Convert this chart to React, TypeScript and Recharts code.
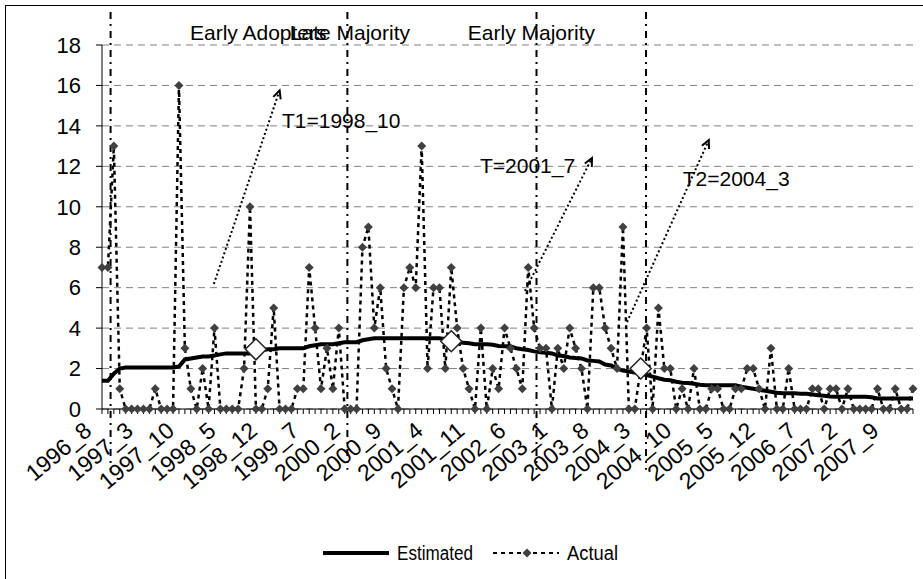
import {
  LineChart,
  Line,
  XAxis,
  YAxis,
  CartesianGrid,
  ReferenceLine,
  ReferenceDot,
  Legend,
} from "recharts";

// Monthly counts, 1996_8 .. 2008_1 (138 months)
const actual = [
  7, 7, 13, 1, 0, 0, 0, 0, 0, 1,
  0, 0, 0, 16, 3, 1, 0, 2, 0, 4,
  0, 0, 0, 0, 2, 10, 0, 0, 1, 5,
  0, 0, 0, 1, 1, 7, 4, 1, 3, 1,
  4, 0, 0, 0, 8, 9, 4, 6, 2, 1,
  0, 6, 7, 6, 13, 2, 6, 6, 2, 7,
  4, 2, 1, 0, 4, 0, 2, 1, 4, 3,
  2, 1, 7, 4, 3, 3, 0, 3, 2, 4,
  3, 2, 0, 6, 6, 4, 3, 2, 9, 0,
  0, 2, 4, 0, 5, 2, 2, 0, 1, 0,
  2, 0, 0, 1, 1, 0, 0, 1, 1, 2,
  2, 1, 0, 3, 0, 0, 2, 0, 0, 0,
  1, 1, 0, 1, 1, 0, 1, 0, 0, 0,
  0, 1, 0, 0, 1, 0, 0, 1,
];

const estimated = [
  1.4, 1.4, 1.75, 2.0, 2.05, 2.05, 2.05, 2.05, 2.05, 2.05,
  2.05, 2.05, 2.05, 2.1, 2.45, 2.5, 2.55, 2.6, 2.6, 2.65,
  2.7, 2.75, 2.75, 2.75, 2.75, 2.75, 2.85, 2.9, 2.95, 2.95,
  3.0, 3.0, 3.0, 3.0, 3.0, 3.1, 3.15, 3.2, 3.2, 3.2,
  3.25, 3.3, 3.3, 3.3, 3.4, 3.45, 3.5, 3.5, 3.5, 3.5,
  3.5, 3.5, 3.5, 3.5, 3.5, 3.5, 3.5, 3.5, 3.45, 3.38,
  3.3, 3.28, 3.25, 3.2, 3.2, 3.2, 3.18, 3.12, 3.1, 3.1,
  3.0, 2.95, 2.92, 2.85, 2.8, 2.78, 2.75, 2.65, 2.62, 2.55,
  2.52, 2.5, 2.4, 2.38, 2.35, 2.2, 2.15, 2.0, 1.9, 1.85,
  1.8, 1.75, 1.68, 1.6, 1.52, 1.45, 1.42, 1.35, 1.3, 1.28,
  1.25, 1.2, 1.18, 1.18, 1.18, 1.18, 1.18, 1.18, 1.1, 1.05,
  1.0, 0.95, 0.9, 0.85, 0.8, 0.78, 0.78, 0.78, 0.76, 0.75,
  0.72, 0.68, 0.65, 0.62, 0.6, 0.6, 0.6, 0.6, 0.6, 0.6,
  0.58, 0.52, 0.52, 0.52, 0.52, 0.52, 0.52, 0.52,
];

// turning points T1, T, T2 (open diamonds)
const turnIdx = [26, 59, 91];
const turnValue = [2.95, 3.35, 2.0];

const tickLabels = [
  "1996_8", "1997_3", "1997_10", "1998_5", "1998_12", "1999_7", "2000_2",
  "2000_9", "2001_4", "2001_11", "2002_6", "2003_1", "2003_8", "2004_3",
  "2004_10", "2005_5", "2005_12", "2006_7", "2007_2", "2007_9",
];
const labelStep = 7;
const yTicks = [0, 2, 4, 6, 8, 10, 12, 14, 16, 18];

// annotation layer (in chart units)
const phaseLines = [1.45, 41.45, 73.4, 91.9];
const phaseTexts = [
  { text: "Early Adopters", x: 14.86, y: 18.25, anchor: "start" },
  { text: "Late Majority", x: 52.03, y: 18.25, anchor: "end" },
  { text: "Early Majority", x: 61.8, y: 18.25, anchor: "start" },
  { text: "T1=1998_10", x: 30.4, y: 13.88, anchor: "start" },
  { text: "T=2001_7", x: 63.85, y: 11.66, anchor: "start" },
  { text: "T2=2004_3", x: 98.1, y: 11.03, anchor: "start" },
];
const arrows = [
  { from: { x: 18.9, y: 6.18 }, to: { x: 30.0, y: 15.75 } },
  { from: { x: 71.45, y: 5.84 }, to: { x: 82.77, y: 12.41 } },
  { from: { x: 88.7, y: 4.3 }, to: { x: 102.5, y: 13.3 } },
];

const FONT = '"Liberation Sans", Arial, sans-serif';

const data = actual.map((a, i) => {
  const t = turnIdx.indexOf(i);
  return {
    idx: i,
    actual: a,
    estimated: estimated[i],
    turn: t >= 0 ? turnValue[t] : null,
  };
});
const allTicks = data.map((d) => d.idx);

const Diamond = ({ cx, cy }: any) => {
  if (cx == null || cy == null) return <g />;
  const h = 4.5;
  return (
    <polygon
      points={`${cx},${cy - h} ${cx + h},${cy} ${cx},${cy + h} ${cx - h},${cy}`}
      fill="#404040"
      stroke="none"
    />
  );
};

const OpenDiamond = ({ cx, cy, value }: any) => {
  if (cx == null || cy == null || value == null) return <g />;
  const h = 10.5;
  return (
    <polygon
      points={`${cx},${cy - h} ${cx + h},${cy} ${cx},${cy + h} ${cx - h},${cy}`}
      fill="#fff"
      stroke="#222"
      strokeWidth={1.5}
    />
  );
};

const MonthTick = ({ x, y, payload }: any) => {
  const v = payload.value;
  if (v % labelStep !== 0) return <g />;
  const tx = x - 9;
  const ty = y + 17;
  return (
    <text
      x={tx}
      y={ty}
      transform={`rotate(-40 ${tx} ${ty})`}
      textAnchor="end"
      fontSize={23}
      fontFamily={FONT}
      fill="#000"
    >
      {tickLabels[v / labelStep]}
    </text>
  );
};

const Arrow = ({ x1, y1, x2, y2 }: any) => {
  const ang = Math.atan2(y2 - y1, x2 - x1);
  const len = 9;
  const spread = 0.45;
  const ax = x2 - len * Math.cos(ang - spread);
  const ay = y2 - len * Math.sin(ang - spread);
  const bx = x2 - len * Math.cos(ang + spread);
  const by = y2 - len * Math.sin(ang + spread);
  return (
    <g>
      <line x1={x1} y1={y1} x2={x2} y2={y2} stroke="#000" strokeWidth={2} strokeDasharray="2 2.5" />
      <polyline points={`${ax},${ay} ${x2},${y2} ${bx},${by}`} fill="none" stroke="#000" strokeWidth={2} />
    </g>
  );
};

const legendOrder = ["estimated", "actual"];
const legendStyle: Record<string, { dash?: string; width: number; marker: boolean; textLen: number }> = {
  estimated: { width: 4, marker: false, textLen: 76 },
  actual: { dash: "4 4", width: 2, marker: true, textLen: 51 },
};

const LegendContent = ({ payload }: any) => {
  const items = (payload || [])
    .filter((p: any) => legendStyle[p.dataKey])
    .sort((a: any, b: any) => legendOrder.indexOf(a.dataKey) - legendOrder.indexOf(b.dataKey));
  let x = 5;
  return (
    <svg width={330} height={30}>
      {items.map((p: any) => {
        const s = legendStyle[p.dataKey];
        const x0 = x;
        x += 70 + s.textLen + 24;
        return (
          <g key={p.dataKey}>
            <line x1={x0} x2={x0 + 66} y1={15} y2={15} stroke="#000" strokeWidth={s.width} strokeDasharray={s.dash} />
            {s.marker && <Diamond cx={x0 + 34} cy={15} />}
            <text
              x={x0 + 74}
              y={15}
              dominantBaseline="central"
              fontSize={20}
              fontFamily={FONT}
              textLength={s.textLen}
              lengthAdjust="spacingAndGlyphs"
              fill="#000"
            >
              {p.value}
            </text>
          </g>
        );
      })}
    </svg>
  );
};

export default function App() {
  return (
    <div
      style={{
        position: "absolute",
        left: 0,
        top: 0,
        width: 923,
        height: 579,
        overflow: "hidden",
        background: "#fff",
        fontFamily: FONT,
      }}
    >
      <div
        style={{
          position: "absolute",
          left: 5,
          top: 5,
          width: 1000,
          height: 1000,
          border: "1px solid #000",
        }}
      />
      <LineChart
        width={923}
        height={579}
        data={data}
        margin={{ top: 45, right: 10, bottom: 0, left: 0 }}
      >
        <CartesianGrid vertical={false} stroke="#808080" strokeDasharray="7 5" />
        <XAxis
          type="number"
          dataKey="idx"
          domain={[0, 137]}
          ticks={allTicks}
          interval={0}
          height={170}
          tickSize={5}
          tick={<MonthTick />}
          axisLine={{ stroke: "#000" }}
          tickLine={{ stroke: "#000" }}
        />
        <YAxis
          domain={[0, 18]}
          ticks={yTicks}
          width={102}
          tickSize={6}
          tickMargin={15}
          axisLine={{ stroke: "#000" }}
          tickLine={{ stroke: "#000" }}
          tick={{ fill: "#000", fontSize: 22, fontFamily: FONT }}
        />
        {phaseLines.map((px) => (
          <ReferenceLine
            key={px}
            segment={[{ x: px, y: 19.63 }, { x: px, y: -3 }]}
            stroke="#000"
            strokeWidth={2}
            strokeDasharray="7 5 2 5"
            ifOverflow="visible"
          />
        ))}
        <Line
          type="linear"
          dataKey="estimated"
          name="Estimated"
          stroke="#000"
          strokeWidth={4}
          dot={false}
          isAnimationActive={false}
        />
        <Line
          type="linear"
          dataKey="actual"
          name="Actual"
          stroke="#000"
          strokeWidth={2.5}
          strokeDasharray="4 4"
          dot={<Diamond />}
          activeDot={false}
          isAnimationActive={false}
        />
        <Line
          type="linear"
          dataKey="turn"
          stroke="none"
          dot={<OpenDiamond />}
          activeDot={false}
          legendType="none"
          connectNulls={false}
          isAnimationActive={false}
        />
        {arrows.map((a, i) => (
          <ReferenceLine
            key={"arrow" + i}
            segment={[a.from, a.to]}
            ifOverflow="visible"
            shape={<Arrow />}
          />
        ))}
        {phaseTexts.map((t) => (
          <ReferenceDot
            key={t.text}
            x={t.x}
            y={t.y}
            r={0}
            ifOverflow="visible"
            shape={(p: any) => (
              <text
                x={p.cx}
                y={p.cy}
                textAnchor={t.anchor}
                fontSize={21}
                fontFamily={FONT}
                fill="#000"
              >
                {t.text}
              </text>
            )}
          />
        ))}
        <Legend
          verticalAlign="middle"
          align="center"
          layout="horizontal"
          content={<LegendContent />}
          wrapperStyle={{ left: 318, top: 538, width: 330, height: 30 }}
        />
      </LineChart>
    </div>
  );
}
